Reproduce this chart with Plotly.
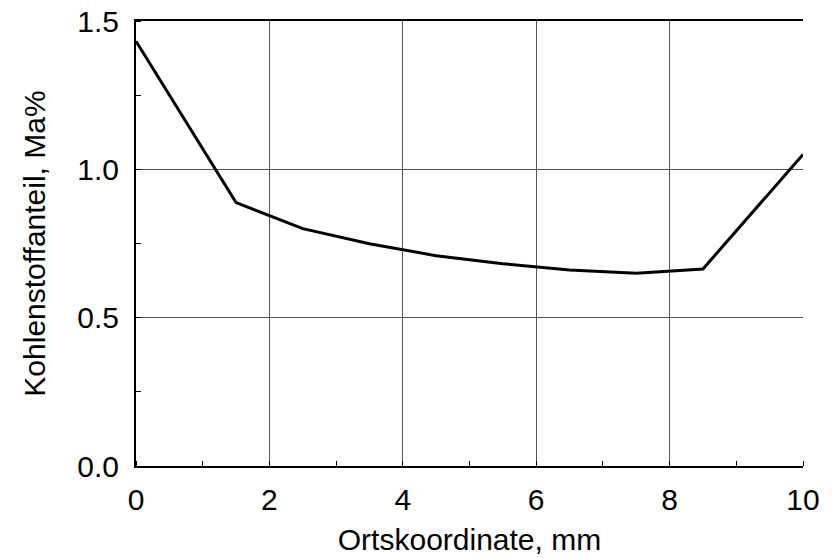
import plotly.graph_objects as go

x_mm = [0, 1.5, 2.5, 3.5, 4.5, 5.5, 6.5, 7.5, 8.5, 10]
carbon = [1.432, 0.888, 0.80, 0.749, 0.709, 0.682, 0.661, 0.650, 0.664, 1.050]

x_ticks = [0, 2, 4, 6, 8, 10]
y_ticks = [0.0, 0.5, 1.0, 1.5]
y_ticklabels = ["0.0", "0.5", "1.0", "1.5"]

fig = go.Figure()
fig.add_trace(go.Scatter(x=x_mm, y=carbon, mode="lines",
                         line=dict(color="black", width=3), showlegend=False))

font = dict(family="Liberation Sans, Arial, sans-serif", size=30, color="black")

fig.update_layout(
    width=832, height=558,
    margin=dict(l=136, r=29, t=21, b=92),
    plot_bgcolor="white", paper_bgcolor="white",
    font=font,
    xaxis=dict(
        range=[0, 10], tickvals=x_ticks, showgrid=True, gridcolor="#555555", gridwidth=1,
        showline=True, linecolor="black", linewidth=2, mirror=True,
        ticks="", zeroline=False, ticklabelstandoff=6, automargin=False,
        minor=dict(ticks="inside", ticklen=5, tickcolor="black", dtick=1, tick0=0, showgrid=False),
        title=dict(text="Ortskoordinate, mm", font=font, standoff=14),
        tickfont=font,
    ),
    yaxis=dict(
        range=[0, 1.5], tickvals=y_ticks, ticktext=y_ticklabels, showgrid=True,
        gridcolor="#555555", gridwidth=1,
        showline=True, linecolor="black", linewidth=2,
        ticks="", zeroline=False, ticklabelstandoff=9, automargin=False,
        minor=dict(ticks="inside", ticklen=5, tickcolor="black", dtick=0.25, tick0=0, showgrid=False),
        title=dict(text="Kohlenstoffanteil, Ma%", font=font, standoff=23),
        tickfont=font,
    ),
)

fig.write_html("out.html")
